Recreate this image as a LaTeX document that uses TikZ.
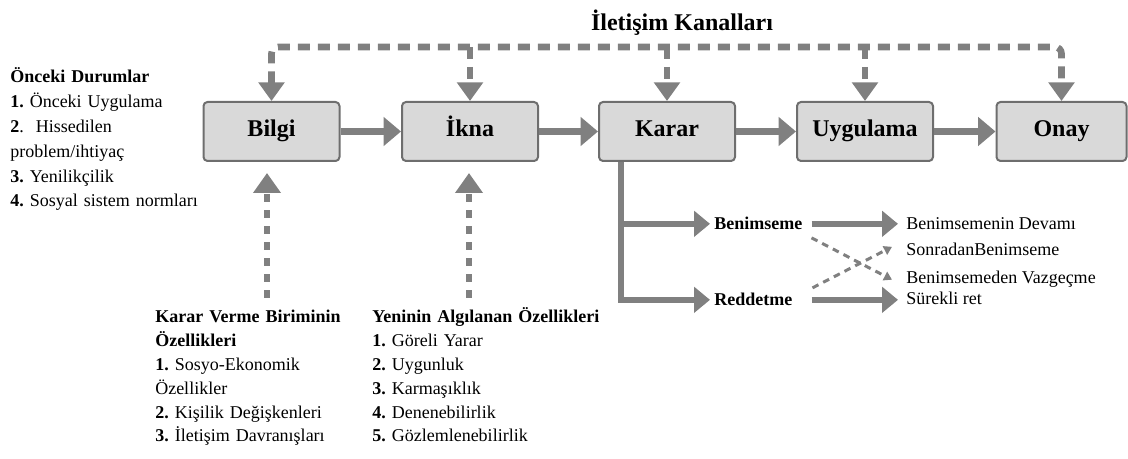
\documentclass[tikz,border=0pt]{standalone}
\usepackage{fontspec}
\setmainfont{Liberation Serif}
\usetikzlibrary{arrows.meta,calc}
\definecolor{arrowgray}{RGB}{128,128,128}
\definecolor{boxfill}{RGB}{217,217,217}
\definecolor{boxline}{RGB}{110,110,110}
\frenchspacing
\begin{document}
\begin{tikzpicture}[x=0.75pt,y=-0.75pt,
  stage/.style={draw=boxline,fill=boxfill,line width=1.5pt,rounded corners=3pt,
    minimum width=102pt,minimum height=44.25pt,inner sep=0pt,
    font=\fontsize{18}{22}\selectfont\bfseries,text height=0.7em,text depth=0pt},
  flow/.style={draw=arrowgray,line width=5pt,-{Triangle[length=13pt,width=21pt]}},
  chanline/.style={draw=arrowgray,line width=5pt,dash pattern=on 9pt off 6pt},
  chan/.style={chanline,-{Triangle[length=14pt,width=19pt]}},
  upchan/.style={draw=arrowgray,line width=5pt,dash pattern=on 6pt off 6pt,-{Triangle[length=15pt,width=20pt]}},
  branch/.style={draw=arrowgray,line width=5pt,-{Triangle[length=12pt,width=19pt]}},
  cross/.style={draw=arrowgray,line width=2.25pt,dash pattern=on 5pt off 4pt,-{Triangle[length=6pt,width=7pt]}},
  bodytext/.style={inner sep=0pt,align=left,anchor=base west,text width=#1},
  label/.style={inner sep=0pt,anchor=base west,font=\fontsize{13.5}{16}\selectfont}
]
\useasboundingbox (0,0) rectangle (1128,459);

% title
\node[anchor=base,inner sep=0pt,font=\fontsize{18}{22}\selectfont\bfseries] (title) at (682,31) {İletişim Kanalları};

% stages
\node[stage] (bilgi) at (271.5,131.5) {Bilgi};
\node[stage] (ikna) at (470,131.5) {İkna};
\node[stage] (karar) at (667,131.5) {Karar};
\node[stage] (uyg) at (865,131.5) {Uygulama};
\node[stage,minimum width=97.5pt] (onay) at (1061.5,131.5) {Onay};

\draw[flow] (bilgi) -- (ikna);
\draw[flow] (ikna) -- (karar);
\draw[flow] (karar) -- (uyg);
\draw[flow] (uyg) -- (onay);

% communication channels
\coordinate (ch) at (667,47);
\draw[chanline,{Triangle[length=14pt,width=19pt]}-{Triangle[length=14pt,width=19pt]},rounded corners=5pt]
  (bilgi.north) |- (ch) -| (onay.north);
\draw[chan] (ch -| ikna.north) -- (ikna.north);
\draw[chan] (ch -| karar.north) -- (karar.north);
\draw[chan] (ch -| uyg.north) -- (uyg.north);

% left text
\node[bodytext=160pt,font=\fontsize{13.5}{18.6}\selectfont] (prior) at (10,83)
  {\textbf{Önceki Durumlar}\\
   \textbf{1.} Önceki Uygulama\\
   \textbf{2}.~ Hissedilen\\
   problem/ihtiyaç\\
   \textbf{3.} Yenilikçilik\\
   \textbf{4.} Sosyal sistem normları};

% bottom texts
\node[bodytext=150pt,font=\fontsize{13.5}{17.85}\selectfont] (kvb) at (155,323)
  {\textbf{Karar Verme Biriminin}\\
   \textbf{Özellikleri}\\
   \textbf{1.} Sosyo-Ekonomik\\
   Özellikler\\
   \textbf{2.} Kişilik Değişkenleri\\
   \textbf{3.} İletişim Davranışları};
\node[bodytext=180pt,font=\fontsize{13.5}{17.85}\selectfont] (yao) at (372,323)
  {\textbf{Yeninin Algılanan Özellikleri}\\
   \textbf{1.} Göreli Yarar\\
   \textbf{2.} Uygunluk\\
   \textbf{3.} Karmaşıklık\\
   \textbf{4.} Denenebilirlik\\
   \textbf{5.} Gözlemlenebilirlik};

\draw[upchan] ($(bilgi.south)+(-4.5,136)$) -- ($(bilgi.south)+(-4.5,11)$);
\draw[upchan] ($(ikna.south)+(-1,136)$) -- ($(ikna.south)+(-1,11)$);

% decision branches
\node[label,font=\fontsize{13.5}{16}\selectfont\bfseries] (ben) at (714,230) {Benimseme};
\node[label,font=\fontsize{13.5}{16}\selectfont\bfseries] (red) at (714,306) {Reddetme};
\node[label] (dev) at (906,230) {Benimsemenin Devamı};
\node[label] (son) at (906,256) {SonradanBenimseme};
\node[label] (vaz) at (906,284) {Benimsemeden Vazgeçme};
\node[label] (ret) at (906,305) {Sürekli ret};

\coordinate (kb) at ($(karar.south west)+(23,0)$);
\draw[branch,shorten >=3pt] (kb) |- (ben.west);
\draw[branch,shorten >=3pt] (kb) |- (red.west);

\draw[branch,shorten >=6pt] ($(ben.east)+(9,0)$) -- (ben.east -| dev.west);
\draw[branch,shorten >=6pt] ($(red.east -| ben.east)+(9,0)$) -- (red.east -| ret.west);

\draw[cross] ($(ben.east)+(9,14)$) -- ($(vaz.west)+(-14,0)$);
\draw[cross] ($(red.east -| ben.east)+(10,-12)$) -- ($(son.west)+(-14,-3)$);
\end{tikzpicture}
\end{document}
